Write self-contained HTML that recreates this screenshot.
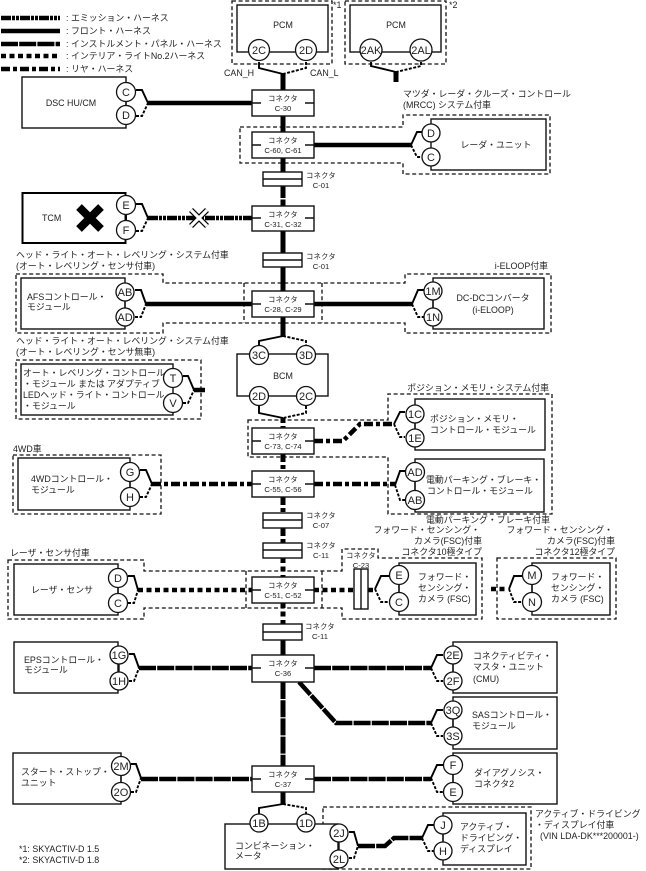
<!DOCTYPE html>
<html><head><meta charset="utf-8">
<style>
html,body{margin:0;padding:0;background:#fff}
svg{display:block}
text{font-family:"Liberation Sans","Noto Sans CJK JP",sans-serif;font-size:8.9px;fill:#222}
.m{text-anchor:middle}.e{text-anchor:end}
.cn{font-size:7.2px;text-anchor:middle;letter-spacing:.3px}
.cc{font-size:7.6px;text-anchor:middle}
.pin{font-size:11px;text-anchor:middle}
.b{fill:#fff;stroke:#111;stroke-width:1.4}
.n{fill:none;stroke:#111;stroke-width:1.4}
.o{fill:none;stroke:#111;stroke-width:1.3;stroke-dasharray:4 2.6}
.w{fill:none;stroke:#000;stroke-width:1.9}
.wd{fill:none;stroke:#000;stroke-width:1.9;stroke-dasharray:3 1.5}
.t{fill:none;stroke:#000}
.fr{fill:none;stroke:#000;stroke-width:4.5}
.em{fill:none;stroke:#000;stroke-width:4.5;stroke-dasharray:10 1 3 1 3 1}
.ip{fill:none;stroke:#000;stroke-width:4.5;stroke-dasharray:17 1.2}
.in{fill:none;stroke:#000;stroke-width:4.5;stroke-dasharray:5 3.5}
.re{fill:none;stroke:#000;stroke-width:4.5;stroke-dasharray:9 3 4 3}
.c{fill:#fff;stroke:#111;stroke-width:1.3}
</style></head><body>
<svg width="646" height="871" viewBox="0 0 646 871" xmlns="http://www.w3.org/2000/svg">

<!-- legend -->
<path class="em" d="M1 18H60"/><path class="fr" d="M1 31H60"/><path class="ip" d="M1 44H60"/><path class="in" d="M1 56H60"/><path class="re" d="M1 69H60"/>
<text x="66" y="21">:</text><text x="71" y="21">エミッション・ハーネス</text>
<text x="66" y="34">:</text><text x="71" y="34">フロント・ハーネス</text>
<text x="66" y="47">:</text><text x="71" y="47">インストルメント・パネル・ハーネス</text>
<text x="66" y="59">:</text><text x="71" y="59">インテリア・ライトNo.2ハーネス</text>
<text x="66" y="72">:</text><text x="71" y="72">リヤ・ハーネス</text>

<!-- dashed option boxes -->
<rect class="o" x="232" y="1" width="100" height="63"/>
<rect class="o" x="345" y="1" width="101" height="63"/>
<path class="o" d="M240 127H403V115H550V174H403V163H240Z"/>
<path class="o" d="M16 274H163V283H405V274H551V333H405V323H163V333H16Z"/>
<path class="o" d="M244 283V323M322 283V323"/>
<rect class="o" x="16" y="360" width="185" height="59"/>
<path class="o" d="M248 420H388V394H552V514H388V457H248Z"/>
<rect class="o" x="13" y="455" width="148" height="59"/>
<path class="o" d="M8 560H144V571H342V549H378V558H482V619H342V608H144V619H8Z"/>
<path class="o" d="M246 571V608M322 571V608"/>
<rect class="o" x="497" y="558" width="119" height="61"/>
<rect class="o" x="323" y="807" width="208" height="62"/>

<!-- main trunk -->
<path class="t" stroke-width="5" d="M283 74V90M283 116V132M283 158V172"/>
<path class="t" stroke-width="5" stroke-dasharray="12 1.5" d="M283 186V206"/>
<path class="t" stroke-width="5" d="M283 231V253M283 267V291M283 317V337"/>
<path class="t" stroke-width="5" stroke-dasharray="5 3" d="M283 418V428"/>
<path class="t" stroke-width="5" stroke-dasharray="8 3 4 3" d="M283 454V471M283 497V513M283 528V543"/>
<path class="t" stroke-width="5" stroke-dasharray="5 3.5" d="M283 558V577M283 603V624"/>
<path class="t" stroke-width="5" d="M283 640V655"/>
<path class="t" stroke-width="5" stroke-dasharray="17 1.2" d="M283 682V766"/>
<path class="t" stroke-width="5" d="M283 792V804"/>
<path class="t" stroke-width="5" d="M396 72V82"/>

<!-- horizontal harness -->
<path class="fr" d="M148 103H252M314 145H411"/>
<path class="em" d="M148 218H252"/>
<path class="fr" d="M146 304H252M314 304H412"/>
<path class="fr" d="M194 390H205"/>
<path class="re" d="M314 441H343L360 424H394"/>
<path class="re" d="M152 484H252M314 484H395"/>
<path class="in" d="M138 590H252M314 590H354M368 590H375M491 589H508"/>
<path class="ip" d="M139 668H252M314 668H431"/>
<path class="ip" d="M299 682L336 723H431"/>
<path class="ip" d="M141 779H252M314 779H431"/>
<path class="ip" d="M358 846H385L394 838H422"/>

<!-- small wires -->
<path class="w" d="M259 62V68L283 74"/><path class="wd" d="M306 62V68L283 74"/>
<path class="w" d="M371 62V66L396 72"/><path class="wd" d="M421 62V66L396 72"/>
<path class="w" d="M136 90H142L148 103"/><path class="wd" d="M136 116H142L148 103"/>
<path class="w" d="M411 145L417 132H422"/><path class="wd" d="M411 145L417 157H422"/>
<path class="w" d="M136 204H142L148 218"/><path class="wd" d="M136 231H142L148 218"/>
<path class="w" d="M135 290H141L146 304"/><path class="wd" d="M135 317H141L146 304"/>
<path class="w" d="M412 304L418 290H424"/><path class="wd" d="M412 304L418 317H424"/>
<path class="w" d="M183 376H188L194 390"/><path class="wd" d="M183 403H188L194 390"/>
<path class="w" d="M283 336L259 341V350"/><path class="wd" d="M283 336L306 341V350"/>
<path class="w" d="M259 406V413L283 418"/><path class="wd" d="M306 406V413L283 418"/>
<path class="w" d="M394 424L400 412H405"/><path class="wd" d="M394 424L400 437H405"/>
<path class="w" d="M140 470H146L152 484"/><path class="wd" d="M140 497H146L152 484"/>
<path class="w" d="M395 485L400 471H405"/><path class="wd" d="M395 485L400 500H405"/>
<path class="w" d="M128 576H134L138 590"/><path class="wd" d="M128 603H134L138 590"/>
<path class="w" d="M375 589L381 576H390"/><path class="wd" d="M375 589L381 602H390"/>
<path class="w" d="M509 589L514 576H523"/><path class="wd" d="M509 589L514 602H523"/>
<path class="w" d="M129 654H134L139 668"/><path class="wd" d="M129 681H134L139 668"/>
<path class="w" d="M431 668L437 655H443"/><path class="wd" d="M431 668L437 681H443"/>
<path class="w" d="M431 723L437 710H443"/><path class="wd" d="M431 723L437 736H443"/>
<path class="w" d="M431 778L437 765H443"/><path class="wd" d="M431 778L437 792H443"/>
<path class="w" d="M131 764H136L141 778"/><path class="wd" d="M131 792H136L141 778"/>
<path class="w" d="M283 804L259 808V814"/><path class="wd" d="M283 804L306 808V814"/>
<path class="w" d="M349 832H354L358 846"/><path class="wd" d="M349 858H354L358 846"/>
<path class="w" d="M422 838L428 825H434"/><path class="wd" d="M422 838L428 851H434"/>

<!-- components -->
<rect class="b" x="237" y="5" width="91" height="47"/>
<text class="m" x="283" y="28">PCM</text>
<circle class="c" cx="259" cy="50" r="10.5"/><text class="pin" x="259" y="54">2C</text>
<circle class="c" cx="306" cy="50" r="10.5"/><text class="pin" x="306" y="54">2D</text>
<text x="333" y="8">*1</text>
<rect class="b" x="350" y="5" width="91" height="47"/>
<text class="m" x="396" y="28">PCM</text>
<circle class="c" cx="371" cy="50" r="11"/><text class="pin" x="371" y="54">2AK</text>
<circle class="c" cx="421" cy="50" r="11"/><text class="pin" x="421" y="54">2AL</text>
<text x="449" y="8">*2</text>
<text x="224" y="76">CAN_H</text><text x="310" y="76">CAN_L</text>

<rect class="b" x="22" y="77" width="104" height="51"/>
<text class="m" x="71" y="106">DSC HU/CM</text>
<path class="n" d="M126 92V115"/>
<circle class="c" cx="126" cy="92" r="9.5"/><text class="pin" x="126" y="96">C</text>
<circle class="c" cx="126" cy="115" r="9.5"/><text class="pin" x="126" y="119">D</text>

<text x="403" y="97">マツダ・レーダ・クルーズ・コントロール</text>
<text x="403" y="108">(MRCC) システム付車</text>
<rect class="b" x="431" y="119" width="115" height="51"/>
<text class="m" x="496" y="148">レーダ・ユニット</text>
<circle class="c" cx="431" cy="133" r="9"/><text class="pin" x="431" y="137">D</text>
<circle class="c" cx="431" cy="157" r="9"/><text class="pin" x="431" y="161">C</text>

<rect x="22.5" y="193" width="103" height="50" fill="#fff" stroke="#000" stroke-width="2"/>
<text x="42" y="221">TCM</text>
<path d="M79 207L101 229M101 207L79 229" stroke="#000" stroke-width="8" fill="none"/>
<path d="M126 205V230" stroke="#000" stroke-width="2"/>
<circle class="c" cx="126" cy="205" r="9.5"/><text class="pin" x="126" y="209">E</text>
<circle class="c" cx="126" cy="230" r="9.5"/><text class="pin" x="126" y="234">F</text>
<path d="M191 210L207 226M207 210L191 226" stroke="#000" stroke-width="5.5" fill="none"/>
<path d="M191 210L207 226M207 210L191 226" stroke="#fff" stroke-width="3.2" fill="none"/>

<text x="16" y="258">ヘッド・ライト・オート・レベリング・システム付車</text>
<text x="16" y="269">(オート・レベリング・センサ付車)</text>
<rect class="b" x="21" y="278" width="104" height="51"/>
<text x="27" y="300">AFSコントロール・</text><text x="27" y="310">モジュール</text>
<path class="n" d="M125 292V317"/>
<circle class="c" cx="125" cy="292" r="9"/><text class="pin" x="125" y="296">AB</text>
<circle class="c" cx="125" cy="317" r="9"/><text class="pin" x="125" y="321">AD</text>

<text class="e" x="548" y="269">i-ELOOP付車</text>
<rect class="b" x="433" y="278" width="111" height="51"/>
<text class="m" x="493" y="301">DC-DCコンバータ</text><text class="m" x="493" y="313">(i-ELOOP)</text>
<path class="n" d="M433 291V317"/>
<circle class="c" cx="433" cy="291" r="9"/><text class="pin" x="433" y="295">1M</text>
<circle class="c" cx="433" cy="317" r="9"/><text class="pin" x="433" y="321">1N</text>

<text x="16" y="344">ヘッド・ライト・オート・レベリング・システム付車</text>
<text x="16" y="355">(オート・レベリング・センサ無車)</text>
<rect class="b" x="21" y="364" width="152" height="51"/>
<text x="23" y="376">オート・レベリング・コントロール</text>
<text x="23" y="387">・モジュール または アダプティブ</text>
<text x="23" y="398">LEDヘッド・ライト・コントロール</text>
<text x="23" y="409">・モジュール</text>
<circle class="c" cx="173" cy="378" r="9.5"/><text class="pin" x="173" y="382">T</text>
<circle class="c" cx="173" cy="403" r="9.5"/><text class="pin" x="173" y="407">V</text>

<rect class="b" x="237" y="354" width="91" height="42"/>
<text class="m" x="283" y="379">BCM</text>
<circle class="c" cx="259" cy="355" r="9.5"/><text class="pin" x="259" y="359">3C</text>
<circle class="c" cx="306" cy="355" r="9.5"/><text class="pin" x="306" y="359">3D</text>
<circle class="c" cx="259" cy="396" r="9.5"/><text class="pin" x="259" y="400">2D</text>
<circle class="c" cx="306" cy="396" r="9.5"/><text class="pin" x="306" y="400">2C</text>

<text class="e" x="549" y="391">ポジション・メモリ・システム付車</text>
<rect class="b" x="415" y="399" width="130" height="51"/>
<text x="430" y="422">ポジション・メモリ・</text><text x="430" y="433">コントロール・モジュール</text>
<path class="n" d="M415 414V438"/>
<circle class="c" cx="415" cy="414" r="9"/><text class="pin" x="415" y="418">1C</text>
<circle class="c" cx="415" cy="438" r="9"/><text class="pin" x="415" y="442">1E</text>

<text x="13" y="452">4WD車</text>
<rect class="b" x="18" y="458" width="112" height="52"/>
<text x="31" y="482">4WDコントロール・</text><text x="31" y="493">モジュール</text>
<path class="n" d="M130 472V497"/>
<circle class="c" cx="130" cy="472" r="9.5"/><text class="pin" x="130" y="476">G</text>
<circle class="c" cx="130" cy="497" r="9.5"/><text class="pin" x="130" y="501">H</text>

<rect class="b" x="415" y="459" width="129" height="53"/>
<text x="426" y="483">電動パーキング・ブレーキ・</text><text x="427" y="494">コントロール・モジュール</text>
<path class="n" d="M415 472V500"/>
<circle class="c" cx="415" cy="472" r="9.5"/><text class="pin" x="415" y="476">AD</text>
<circle class="c" cx="415" cy="500" r="9.5"/><text class="pin" x="415" y="504">AB</text>
<text x="426" y="523">電動パーキング・ブレーキ付車</text>

<text x="10" y="556">レーザ・センサ付車</text>
<rect class="b" x="14" y="564" width="104" height="51"/>
<text class="m" x="62" y="593">レーザ・センサ</text>
<path class="n" d="M118 578V603"/>
<circle class="c" cx="118" cy="578" r="9.5"/><text class="pin" x="118" y="582">D</text>
<circle class="c" cx="118" cy="603" r="9.5"/><text class="pin" x="118" y="607">C</text>

<text class="e" x="480" y="533">フォワード・センシング・</text>
<text class="e" x="482" y="544">カメラ(FSC)付車</text>
<text class="e" x="482" y="555">コネクタ10極タイプ</text>
<text class="e" x="613" y="533">フォワード・センシング・</text>
<text class="e" x="615" y="544">カメラ(FSC)付車</text>
<text class="e" x="615" y="555">コネクタ12極タイプ</text>

<text class="cn" x="361" y="558">コネクタ</text><text class="cc" x="361" y="568">C-23</text>
<rect class="b" x="354" y="569" width="14" height="40"/><path class="n" d="M361 569V609"/>

<rect class="b" x="399" y="563" width="77" height="52"/>
<text x="418" y="580">フォワード・</text><text x="418" y="591">センシング・</text><text x="418" y="602">カメラ (FSC)</text>
<path class="n" d="M399 575V602"/>
<circle class="c" cx="399" cy="575" r="9.5"/><text class="pin" x="399" y="579">E</text>
<circle class="c" cx="399" cy="602" r="9.5"/><text class="pin" x="399" y="606">C</text>

<rect class="b" x="532" y="563" width="78" height="52"/>
<text x="551" y="580">フォワード・</text><text x="551" y="591">センシング・</text><text x="551" y="602">カメラ (FSC)</text>
<path class="n" d="M532 575V602"/>
<circle class="c" cx="532" cy="575" r="9.5"/><text class="pin" x="532" y="579">M</text>
<circle class="c" cx="532" cy="602" r="9.5"/><text class="pin" x="532" y="606">N</text>

<rect class="b" x="14" y="642" width="104" height="51"/>
<text x="24" y="663">EPSコントロール・</text><text x="24" y="673">モジュール</text>
<path class="n" d="M119 655V681"/>
<circle class="c" cx="119" cy="655" r="9"/><text class="pin" x="119" y="659">1G</text>
<circle class="c" cx="119" cy="681" r="9"/><text class="pin" x="119" y="685">1H</text>

<rect class="b" x="453" y="642" width="104" height="51"/>
<text x="473" y="659">コネクティビティ・</text><text x="473" y="670">マスタ・ユニット</text><text x="473" y="682">(CMU)</text>
<path class="n" d="M453 655V681"/>
<circle class="c" cx="453" cy="655" r="9"/><text class="pin" x="453" y="659">2E</text>
<circle class="c" cx="453" cy="681" r="9"/><text class="pin" x="453" y="685">2F</text>

<rect class="b" x="453" y="697" width="104" height="52"/>
<text x="472" y="718">SASコントロール・</text><text x="472" y="729">モジュール</text>
<path class="n" d="M453 710V736"/>
<circle class="c" cx="453" cy="710" r="9"/><text class="pin" x="453" y="714">3Q</text>
<circle class="c" cx="453" cy="736" r="9"/><text class="pin" x="453" y="740">3S</text>

<rect class="b" x="453" y="753" width="104" height="51"/>
<text x="474" y="776">ダイアグノシス・</text><text x="474" y="787">コネクタ2</text>
<path class="n" d="M453 765V792"/>
<circle class="c" cx="453" cy="765" r="9.5"/><text class="pin" x="453" y="769">F</text>
<circle class="c" cx="453" cy="792" r="9.5"/><text class="pin" x="453" y="796">E</text>

<rect class="b" x="13" y="753" width="108" height="51"/>
<text x="21" y="775">スタート・ストップ・</text><text x="21" y="786">ユニット</text>
<path class="n" d="M121 766V792"/>
<circle class="c" cx="121" cy="766" r="9.5"/><text class="pin" x="121" y="770">2M</text>
<circle class="c" cx="121" cy="792" r="9.5"/><text class="pin" x="121" y="796">2O</text>

<rect class="b" x="225" y="824" width="113" height="45"/>
<text x="235" y="849">コンビネーション・</text><text x="235" y="859">メータ</text>
<circle class="c" cx="259" cy="823" r="9"/><text class="pin" x="259" y="827">1B</text>
<circle class="c" cx="306" cy="823" r="9"/><text class="pin" x="306" y="827">1D</text>
<path class="n" d="M339 833V859"/>
<circle class="c" cx="339" cy="833" r="9"/><text class="pin" x="339" y="837">2J</text>
<circle class="c" cx="339" cy="859" r="9"/><text class="pin" x="339" y="863">2L</text>

<rect class="b" x="443" y="813" width="83" height="52"/>
<text x="460" y="830">アクティブ・</text><text x="460" y="841">ドライビング・</text><text x="460" y="852">ディスプレイ</text>
<path class="n" d="M443 825V851"/>
<circle class="c" cx="443" cy="825" r="9"/><text class="pin" x="443" y="829">J</text>
<circle class="c" cx="443" cy="851" r="9"/><text class="pin" x="443" y="855">H</text>

<text x="535" y="817">アクティブ・ドライビング</text>
<text x="535" y="828">・ディスプレイ付車</text>
<text x="540" y="839">(VIN LDA-DK***200001-)</text>
<text x="19" y="852">*1: SKYACTIV-D 1.5</text>
<text x="19" y="863">*2: SKYACTIV-D 1.8</text>

<!-- connector boxes -->
<rect class="b" x="252" y="90" width="62" height="26"/><path class="n" d="M252 103H261M305 103H314"/><text class="cn" x="283" y="101">コネクタ</text><text class="cc" x="283" y="111">C-30</text>
<rect class="b" x="252" y="132" width="62" height="26"/><path class="n" d="M252 145H261M305 145H314"/><text class="cn" x="283" y="143">コネクタ</text><text class="cc" x="283" y="153">C-60, C-61</text>
<rect class="b" x="252" y="206" width="62" height="25"/><path class="n" d="M252 218H261M305 218H314"/><text class="cn" x="283" y="217">コネクタ</text><text class="cc" x="283" y="227">C-31, C-32</text>
<rect class="b" x="252" y="291" width="62" height="26"/><path class="n" d="M252 304H261M305 304H314"/><text class="cn" x="283" y="302">コネクタ</text><text class="cc" x="283" y="312">C-28, C-29</text>
<rect class="b" x="252" y="428" width="62" height="26"/><path class="n" d="M252 441H261M305 441H314"/><text class="cn" x="283" y="439">コネクタ</text><text class="cc" x="283" y="449">C-73, C-74</text>
<rect class="b" x="252" y="471" width="62" height="26"/><path class="n" d="M252 484H261M305 484H314"/><text class="cn" x="283" y="482">コネクタ</text><text class="cc" x="283" y="492">C-55, C-56</text>
<rect class="b" x="252" y="577" width="62" height="26"/><path class="n" d="M252 590H261M305 590H314"/><text class="cn" x="283" y="588">コネクタ</text><text class="cc" x="283" y="598">C-51, C-52</text>
<rect class="b" x="252" y="655" width="62" height="27"/><path class="n" d="M252 668H261M305 668H314"/><text class="cn" x="283" y="666">コネクタ</text><text class="cc" x="283" y="676">C-36</text>
<rect class="b" x="252" y="766" width="62" height="26"/><path class="n" d="M252 779H261M305 779H314"/><text class="cn" x="283" y="777">コネクタ</text><text class="cc" x="283" y="787">C-37</text>

<!-- inline connectors -->
<rect class="b" x="263" y="172" width="39" height="14"/><path class="n" d="M263 179H302"/>
<text class="cn" x="321" y="178">コネクタ</text><text class="cc" x="321" y="188">C-01</text>
<rect class="b" x="263" y="253" width="39" height="14"/><path class="n" d="M263 260H302"/>
<text class="cn" x="321" y="259">コネクタ</text><text class="cc" x="321" y="269">C-01</text>
<rect class="b" x="263" y="513" width="39" height="15"/><path class="n" d="M263 520H302"/>
<text class="cn" x="321" y="518">コネクタ</text><text class="cc" x="321" y="528">C-07</text>
<rect class="b" x="263" y="543" width="39" height="15"/><path class="n" d="M263 550H302"/>
<text class="cn" x="321" y="548">コネクタ</text><text class="cc" x="321" y="558">C-11</text>
<rect class="b" x="263" y="624" width="39" height="16"/><path class="n" d="M263 632H302"/>
<text class="cn" x="320" y="629">コネクタ</text><text class="cc" x="320" y="639">C-11</text>
</svg>
</body></html>
